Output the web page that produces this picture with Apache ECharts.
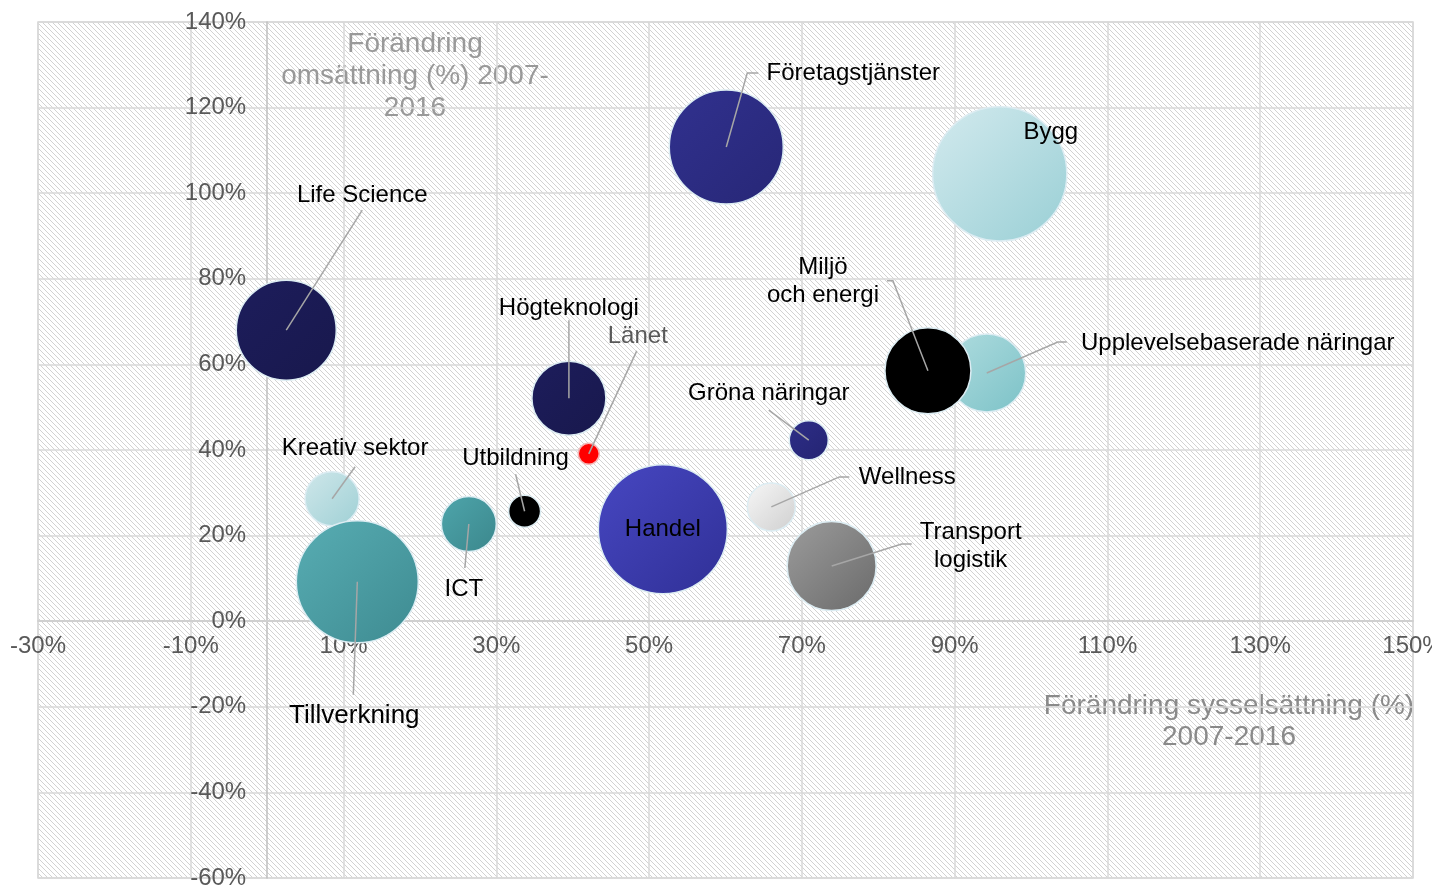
<!DOCTYPE html>
<html>
<head>
<meta charset="utf-8">
<script src="https://cdn.jsdelivr.net/npm/echarts@6/dist/echarts.min.js"></script>
<style>
  html, body { margin: 0; padding: 0; background: #fff; }
  #chart { width: 1432px; height: 886px; }
</style>
</head>
<body>
<div id="chart"></div>
<script>
// branscher, ritordning = Excel-ordning (senare ritas ovanpå)
const branches = [
  "Life Science", "Företagstjänster", "Bygg", "Upplevelsebaserade näringar",
  "Miljö\noch energi", "Högteknologi", "Gröna näringar", "Kreativ sektor",
  "Tillverkning", "ICT", "Utbildning", "Handel", "Wellness",
  "Transport\nlogistik", "Länet"
];
// förändring sysselsättning (%) 2007-2016
const employmentChange = [2.5, 60.1, 95.9, 94.2, 86.5, 39.5, 70.9, 8.5, 11.8, 26.4, 33.7, 51.8, 66.0, 73.9, 42.1];
// förändring omsättning (%) 2007-2016
const turnoverChange = [68.0, 110.8, 104.5, 58.0, 58.5, 52.1, 42.3, 28.6, 9.2, 22.7, 25.7, 21.5, 26.7, 12.9, 39.1];
// bubbelstorlek (antal sysselsatta, ungefär)
const employees = [5000, 6500, 9000, 3040, 3700, 2740, 760, 1460, 7440, 1510, 510, 8320, 1150, 3960, 220];

const xMin = -30, xMax = 150, xStep = 20;
const yMin = -60, yMax = 140, yStep = 20;

// stilar, separat från data
const fills = [
  ["#1d1d5c", "#18184c"], ["#31318f", "#272776"], ["#d3eaee", "#99cfd5"], ["#afdcdf", "#7cc2c7"],
  ["#000000", "#000000"], ["#1d1d5c", "#18184c"], ["#2e2e88", "#242472"], ["#cfe7ea", "#9fd0d5"],
  ["#58adb3", "#3e8b91"], ["#4ea5ab", "#3b878c"], ["#000000", "#000000"], ["#4747c2", "#303096"],
  ["#f7f7f7", "#cfcfcf"], ["#9c9c9c", "#6a6a6a"], ["#ff0000", "#ff0000"]
];
// etikettens mitt relativt bubblans mitt (px)
const labelOffsets = [
  [76, -135], [127, -74], [51, -42], [251, -30], [-105, -89], [0, -90], [-40, -47], [23, -50],
  [-3, 134], [-5, 65], [-9, -53], [0, 0], [136, -30], [139, -20], [49, -117]
];
const labelSizes = [24, 24, 24, 24, 24, 24, 24, 24, 26, 24, 24, 24, 24, 24, 24];
// hänvisningslinjer från bubblans mitt (px, relativt)
const leaders = [
  [[76, -120]], [[21, -74], [32, -74]], null, [[71, -31], [80, -31]],
  [[-35, -90], [-41, -90]], [[0, -78]], [[-40, -30]], [[23, -32]],
  [[-4, 113]], [[-4, 44]], [[-9, -37]], null, [[68, -30], [78, -30]],
  [[70, -22], [80, -22]], [[48, -103]]
];

function hatch() {
  const n = 5;
  const c = document.createElement("canvas");
  c.width = c.height = n;
  const g = c.getContext("2d");
  g.fillStyle = "#fff";
  g.fillRect(0, 0, n, n);
  g.strokeStyle = "#d2d2d2";
  g.lineWidth = 1;
  g.beginPath();
  g.moveTo(-1, -1); g.lineTo(n + 1, n + 1);
  g.moveTo(-1, n - 1); g.lineTo(1, n + 1);
  g.moveTo(n - 1, -1); g.lineTo(n + 1, 1);
  g.stroke();
  return c;
}

const font = "Arial, 'Liberation Sans', sans-serif";
const gridBox = { left: 38, right: 19, top: 22, bottom: 8 };
const plotW = 1432 - gridBox.left - gridBox.right;
const plotH = 886 - gridBox.top - gridBox.bottom;
// axlarna korsar i nollpunkten
const yAxisShift = -plotW * (0 - xMin) / (xMax - xMin);
const xAxisShift = -plotH * (0 - yMin) / (yMax - yMin);

const bubbleData = branches.map((name, i) => ({
  name: name,
  value: [employmentChange[i], turnoverChange[i], employees[i]],
  itemStyle: {
    opacity: 1,
    color: {
      type: "linear", x: 0, y: 0, x2: 1, y2: 1,
      colorStops: [{ offset: 0, color: fills[i][0] }, { offset: 1, color: fills[i][1] }]
    },
    borderColor: name === "Länet" ? "#f4b6b6" : "#dcecf2",
    borderWidth: 1.5
  }
}));

const labelData = branches.map((name, i) => [employmentChange[i], turnoverChange[i]]);

function renderLabel(params, api) {
  const i = params.dataIndex;
  const c = api.coord([api.value(0), api.value(1)]);
  const children = [];
  if (leaders[i]) {
    const pts = [c].concat(leaders[i].map(p => [c[0] + p[0], c[1] + p[1]]));
    children.push({
      type: "polyline",
      shape: { points: pts },
      style: { stroke: "#a6a6a6", lineWidth: 1.5, fill: null }
    });
  }
  const o = labelOffsets[i];
  children.push({
    type: "text",
    x: c[0] + o[0], y: c[1] + o[1],
    style: {
      text: branches[i],
      align: "center", verticalAlign: "middle",
      font: labelSizes[i] + "px " + font, lineHeight: 28,
      fill: branches[i] === "Länet" ? "#595959" : "#000"
    }
  });
  return { type: "group", children: children };
}

const chart = echarts.init(document.getElementById("chart"));
chart.setOption({
  animation: false,
  backgroundColor: "#fff",
  grid: {
    left: gridBox.left, right: gridBox.right, top: gridBox.top, bottom: gridBox.bottom,
    containLabel: false,
    outerBoundsMode: "none",
    show: true,
    backgroundColor: { image: hatch(), repeat: "repeat" },
    borderColor: "#d9d9d9",
    borderWidth: 1.5
  },
  xAxis: {
    type: "value",
    min: xMin, max: xMax, interval: xStep,
    position: "bottom",
    offset: xAxisShift,
    axisLine: { onZero: false, lineStyle: { color: "#d0d0d0", width: 2 } },
    axisTick: { show: false },
    axisLabel: { formatter: "{value}%", color: "#595959", fontSize: 24, fontFamily: font, margin: 13 },
    splitLine: { lineStyle: { color: "#d9d9d9", width: 1.5 } }
  },
  yAxis: {
    type: "value",
    min: yMin, max: yMax, interval: yStep,
    position: "left",
    offset: yAxisShift,
    axisLine: { show: true, onZero: false, lineStyle: { color: "#bfbfbf", width: 1.5 } },
    axisTick: { show: false },
    axisLabel: { formatter: "{value}%", color: "#595959", fontSize: 24, fontFamily: font, margin: 21 },
    splitLine: { lineStyle: { color: "#d9d9d9", width: 1.5 } }
  },
  graphic: [
    {
      type: "text", x: 415, y: 76, silent: true,
      style: {
        text: "Förändring\nomsättning (%) 2007-\n2016",
        align: "center", verticalAlign: "middle",
        fill: "#999999", font: "28px " + font, lineHeight: 32
      }
    },
    {
      type: "text", x: 1229, y: 722, silent: true,
      style: {
        text: "Förändring sysselsättning (%)\n2007-2016",
        align: "center", verticalAlign: "middle",
        fill: "#8a8a8a", font: "28px " + font, lineHeight: 31
      }
    }
  ],
  series: [
    {
      type: "scatter",
      data: bubbleData,
      symbolSize: function (val) { return Math.sqrt(val[2] * 2); },
      silent: true,
      z: 2
    },
    {
      // etiketter med hänvisningslinjer från bubblans mitt
      type: "custom",
      data: labelData,
      renderItem: renderLabel,
      clip: false,
      silent: true,
      z: 3
    }
  ]
});
</script>
</body>
</html>
